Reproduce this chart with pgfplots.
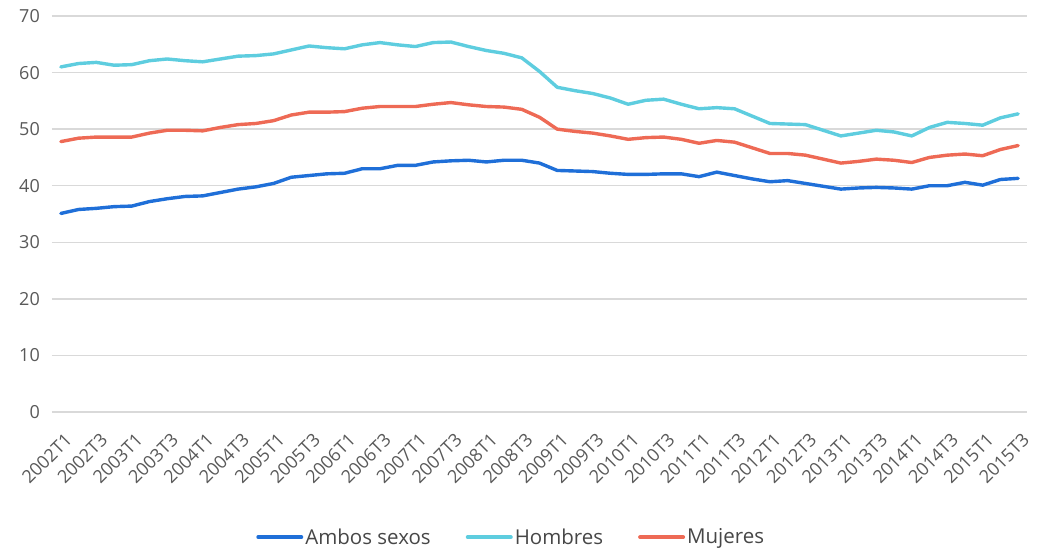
\documentclass[border=0pt]{standalone}
\usepackage{fontspec}
\setmainfont{Open Sans}
\usepackage{pgfplots}
\usepackage{pgfplotstable}
\pgfplotsset{compat=1.18}
\definecolor{ambos}{HTML}{1F6FD8}
\definecolor{hombres}{HTML}{5ECDDF}
\definecolor{mujeres}{HTML}{EE6A55}
\definecolor{gridgray}{HTML}{D9D9D9}
\definecolor{labelgray}{HTML}{595959}

% i = quarter index, 0 = 2002T1 ... 54 = 2015T3
\pgfplotstableread{
i ambos hombres mujeres
0 35.1 61.0 47.8
1 35.8 61.6 48.4
2 36.0 61.8 48.6
3 36.3 61.3 48.6
4 36.4 61.4 48.6
5 37.2 62.1 49.3
6 37.7 62.4 49.8
7 38.1 62.1 49.8
8 38.2 61.9 49.7
9 38.8 62.4 50.3
10 39.4 62.9 50.8
11 39.8 63.0 51.0
12 40.4 63.3 51.5
13 41.5 64.0 52.5
14 41.8 64.7 53.0
15 42.1 64.4 53.0
16 42.2 64.2 53.1
17 43.0 64.9 53.7
18 43.0 65.3 54.0
19 43.6 64.9 54.0
20 43.6 64.6 54.0
21 44.2 65.3 54.4
22 44.4 65.4 54.7
23 44.5 64.6 54.3
24 44.2 63.9 54.0
25 44.5 63.4 53.9
26 44.5 62.6 53.5
27 44.0 60.2 52.1
28 42.7 57.4 50.0
29 42.6 56.8 49.6
30 42.5 56.3 49.3
31 42.2 55.5 48.8
32 42.0 54.4 48.2
33 42.0 55.1 48.5
34 42.1 55.3 48.6
35 42.1 54.4 48.2
36 41.6 53.6 47.5
37 42.4 53.8 48.0
38 41.8 53.6 47.7
39 41.2 52.3 46.7
40 40.7 51.0 45.7
41 40.9 50.9 45.7
42 40.4 50.8 45.4
43 39.9 49.8 44.7
44 39.4 48.8 44.0
45 39.6 49.3 44.3
46 39.7 49.8 44.7
47 39.6 49.5 44.5
48 39.4 48.8 44.1
49 40.0 50.3 45.0
50 40.0 51.2 45.4
51 40.6 51.0 45.6
52 40.1 50.7 45.3
53 41.1 52.0 46.4
54 41.3 52.7 47.1
}\datatable

\begin{document}
\begin{tikzpicture}
\begin{axis}[
  scale only axis,
  width=975pt, height=396pt,
  xmin=-0.5, xmax=54.5,
  ymin=0, ymax=70,
  ytick={0,10,...,70},
  xtick={0,2,...,54},
  xticklabels={2002T1,2002T3,2003T1,2003T3,2004T1,2004T3,2005T1,2005T3,2006T1,2006T3,2007T1,2007T3,2008T1,2008T3,2009T1,2009T3,2010T1,2010T3,2011T1,2011T3,2012T1,2012T3,2013T1,2013T3,2014T1,2014T3,2015T1,2015T3},
  major tick length=0pt,
  axis line style={draw=none},
  ymajorgrids,
  grid style={gridgray, line width=1.5pt},
  /pgf/number format/assume math mode=true,
  tick label style={font=\fontsize{18}{21}\selectfont, text=labelgray, inner sep=0pt},
  y tick label style={anchor=east, xshift=-12pt},
  x tick label style={xshift=3pt, yshift=-20pt, rotate=45, anchor=north east},
  legend style={at={(0.471,-0.316)}, anchor=center, draw=none, fill=none,
    font=\fontsize{20.5}{24}\selectfont, text=labelgray!80!black,
    legend columns=3, /tikz/every even column/.append style={column sep=33pt},
    inner sep=0pt},
  legend image code/.code={\draw[#1, line width=4pt] (0pt,0pt) -- (43pt,0pt);},
  every axis plot/.append style={line width=3.4pt, line join=round, line cap=round},
]
\addplot[ambos, no markers] table[x=i, y=ambos] {\datatable};
\addplot[hombres, no markers] table[x=i, y=hombres] {\datatable};
\addplot[mujeres, no markers] table[x=i, y=mujeres] {\datatable};
\legend{Ambos sexos, Hombres, Mujeres}
\end{axis}
\pgfresetboundingbox
\path[use as bounding box] ([shift={(-52pt,-138pt)}]current axis.south west) rectangle ([shift={(18pt,16pt)}]current axis.north east);
\end{tikzpicture}
\end{document}
